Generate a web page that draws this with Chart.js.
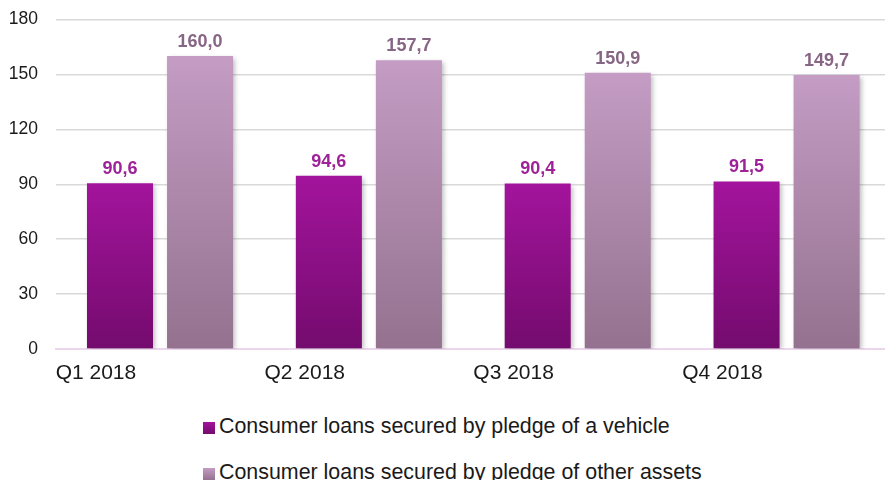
<!DOCTYPE html>
<html>
<head>
  <meta charset="utf-8">
  <script src="https://cdn.jsdelivr.net/npm/chart.js"></script>
  <style>
    body { margin: 0; background: #fff; overflow: hidden; width: 885px; height: 480px; position: relative; }
    #wrap { position: absolute; left: 0; top: 0; width: 891px; height: 390px; }
    #legend { position: absolute; left: 203px; top: 403px; font-family: "Liberation Sans", Arial, sans-serif; font-size: 21.4px; color: #1a1a1a; }
    .row { height: 46px; line-height: 46px; white-space: nowrap; }
    .box { display: inline-block; width: 12px; height: 12px; margin-right: 4px; vertical-align: -1px; }
  </style>
</head>
<body>
  <div id="wrap"><canvas id="chart" width="891" height="390"></canvas></div>
  <div id="legend"></div>

  <script>
    const quarters = ['Q1 2018', 'Q2 2018', 'Q3 2018', 'Q4 2018'];
    const seriesNames = [
      'Consumer loans secured by pledge of a vehicle',
      'Consumer loans secured by pledge of other assets'
    ];
    const vehicleLoans = [90.6, 94.6, 90.4, 91.5];
    const otherAssetLoans = [160.0, 157.7, 150.9, 149.7];
    const yTicks = [0, 30, 60, 90, 120, 150, 180];

    // top / bottom colours of each series' gradient
    const fills = [['#a3149c', '#740b6e'], ['#c49cc4', '#94728f']];
    const labelColors = ['#9e2398', '#876585'];

    function barGradient(idx) {
      return function (ctx) {
        const chart = ctx.chart;
        if (!chart.chartArea || ctx.parsed === undefined) return fills[idx][0];
        const yScale = chart.scales.y;
        const top = yScale.getPixelForValue(ctx.parsed.y);
        const bottom = yScale.getPixelForValue(0);
        const g = chart.ctx.createLinearGradient(0, top, 0, bottom);
        g.addColorStop(0, fills[idx][0]);
        g.addColorStop(1, fills[idx][1]);
        return g;
      };
    }

    // soft drop shadow behind the bars
    const barShadow = {
      id: 'barShadow',
      beforeDatasetsDraw(chart) {
        const c = chart.ctx;
        c.save();
        c.shadowColor = 'rgba(0,0,0,0.28)';
        c.shadowBlur = 5;
        c.shadowOffsetX = 2;
        c.shadowOffsetY = 2;
      },
      afterDatasetsDraw(chart) {
        chart.ctx.restore();
      }
    };

    // value labels above each bar, decimal comma
    const valueLabels = {
      id: 'valueLabels',
      afterDatasetsDraw(chart) {
        const c = chart.ctx;
        c.save();
        c.font = 'bold 18px "Liberation Sans", Arial, sans-serif';
        c.textAlign = 'center';
        c.textBaseline = 'bottom';
        chart.data.datasets.forEach((ds, i) => {
          const meta = chart.getDatasetMeta(i);
          c.fillStyle = labelColors[i];
          meta.data.forEach((bar, j) => {
            const txt = ds.data[j].toFixed(1).replace('.', ',');
            c.fillText(txt, bar.x, bar.y - 5);
          });
        });
        c.restore();
      }
    };

    // legend rows below the chart
    const legendEl = document.getElementById('legend');
    seriesNames.forEach((name, i) => {
      const row = document.createElement('div');
      row.className = 'row';
      const box = document.createElement('span');
      box.className = 'box';
      box.style.background = 'linear-gradient(' + fills[i][0] + ',' + fills[i][1] + ')';
      row.appendChild(box);
      row.appendChild(document.createTextNode(name));
      legendEl.appendChild(row);
    });

    new Chart(document.getElementById('chart'), {
      type: 'bar',
      data: {
        labels: quarters,
        datasets: [
          { label: seriesNames[0], data: vehicleLoans, backgroundColor: barGradient(0) },
          { label: seriesNames[1], data: otherAssetLoans, backgroundColor: barGradient(1) }
        ]
      },
      options: {
        responsive: false,
        animation: false,
        devicePixelRatio: 1,
        categoryPercentage: 0.7665,
        barPercentage: 0.825,
        layout: { padding: 0 },
        plugins: {
          legend: { display: false },
          tooltip: { enabled: false }
        },
        scales: {
          x: {
            afterFit(scale) { scale.height = 41; },
            grid: { display: false, drawTicks: false },
            border: { color: '#ecd6ec', width: 2 },
            ticks: {
              align: 'start',
              labelOffset: -104.4,
              padding: 12,
              color: '#1a1a1a',
              font: { family: '"Liberation Sans", Arial, sans-serif', size: 21 }
            }
          },
          y: {
            min: 0,
            max: 180,
            afterBuildTicks(scale) {
              scale.ticks = yTicks.map(v => ({ value: v }));
            },
            afterFit(scale) {
              scale.width = 55.6;
              scale.paddingTop = 19.5;
            },
            border: { display: false },
            grid: {
              drawTicks: false,
              lineWidth: 1.5,
              color: ctx => ctx.tick && ctx.tick.value === 0 ? '#ecd6ec' : '#d9d9d9'
            },
            ticks: {
              padding: 17.6,
              color: '#1a1a1a',
              font: { family: '"Liberation Sans", Arial, sans-serif', size: 17.5 }
            }
          }
        }
      },
      plugins: [barShadow, valueLabels]
    });
  </script>
</body>
</html>
